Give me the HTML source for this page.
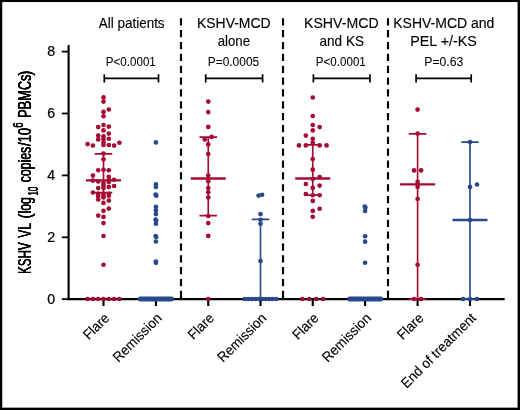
<!DOCTYPE html>
<html lang="en"><head><meta charset="utf-8"><title>KSHV VL</title>
<style>html,body{margin:0;padding:0;background:#fff}body{width:520px;height:410px;overflow:hidden}svg{display:block}text{font-family:"Liberation Sans",Arial,Helvetica,sans-serif;fill:#000}.t text{stroke:#000;stroke-width:.22px}</style>
</head><body>
<svg width="520" height="410" viewBox="0 0 520 410">
<rect x="0" y="0" width="520" height="410" fill="#000"/>
<rect x="2.25" y="2.05" width="515.3" height="405.6" fill="#fff"/>
<g stroke="#000" stroke-width="2.15" fill="none">
<path d="M68.6 45.8V299.15" stroke-linecap="round"/>
<path d="M61.8 299.15H68.6" stroke-width="1.8"/>
<path d="M68.6 299.15H503.8" stroke-linecap="round"/>
<path d="M61.8 237.30H68.6" stroke-width="1.8"/>
<path d="M61.8 175.40H68.6" stroke-width="1.8"/>
<path d="M61.8 113.50H68.6" stroke-width="1.8"/>
<path d="M61.8 51.60H68.6" stroke-width="1.8"/>
<path d="M103.5 299V306"/>
<path d="M155.9 299V306"/>
<path d="M208.25 299V306"/>
<path d="M260.5 299V306"/>
<path d="M312.75 299V306"/>
<path d="M365.1 299V306"/>
<path d="M417.6 299V306"/>
<path d="M470.0 299V306"/>
<path d="M181 18.25V298" stroke-dasharray="7.25 4.6"/>
<path d="M283 18.25V298" stroke-dasharray="7.25 4.6"/>
<path d="M388 18.25V298" stroke-dasharray="7.25 4.6"/>
</g>
<g class="t" font-size="14.2" text-anchor="end">
<text x="55.1" y="303.60">0</text>
<text x="55.1" y="241.70">2</text>
<text x="55.1" y="179.80">4</text>
<text x="55.1" y="117.90">6</text>
<text x="55.1" y="56.00">8</text>
</g>
<g transform="translate(31.4 0) rotate(-90)" stroke="#000" stroke-width="0.06">
<text transform="translate(-273.90 0) scale(0.6075 1)" font-size="19.10" style="text-shadow:0.15px 0 0 #000,-0.15px 0 0 #000">KSHV </text>
<text transform="translate(-237.75 0) scale(0.6332 1)" font-size="19.10" style="text-shadow:0.15px 0 0 #000,-0.15px 0 0 #000">VL </text>
<text transform="translate(-218.70 0) scale(0.8209 1)" font-size="19.10" style="text-shadow:0.1px 0 0 #000,-0.1px 0 0 #000">(</text>
<text transform="translate(-213.40 0) scale(0.6373 1)" font-size="19.10" style="text-shadow:0.15px 0 0 #000,-0.15px 0 0 #000">log</text>
<text transform="translate(-195.50 6.9) scale(0.5408 1)" font-size="14.62" style="text-shadow:0.12px 0 0 #000,-0.12px 0 0 #000">10 </text>
<text transform="translate(-182.27 0) scale(0.6444 1)" font-size="19.10" style="text-shadow:0.15px 0 0 #000,-0.15px 0 0 #000">copies</text>
<text transform="translate(-146.10 0) scale(0.6855 1)" font-size="19.10" style="text-shadow:0.15px 0 0 #000,-0.15px 0 0 #000">/10</text>
<text transform="translate(-127.70 -8.1) scale(0.6465 1)" font-size="14.62" style="text-shadow:0.12px 0 0 #000,-0.12px 0 0 #000">6 </text>
<text transform="translate(-117.98 0) scale(0.6721 1)" font-size="19.10" style="text-shadow:0.15px 0 0 #000,-0.15px 0 0 #000">PBM</text>
<text transform="translate(-89.94 0) scale(0.6537 1)" font-size="19.10" style="text-shadow:0.15px 0 0 #000,-0.15px 0 0 #000">Cs</text>
<text transform="translate(-75.70 0) scale(0.8209 1)" font-size="19.10" style="text-shadow:0.1px 0 0 #000,-0.1px 0 0 #000">)</text>
</g>
<g stroke="#000" stroke-width="0.12">
<text transform="translate(98.7 28.4) scale(0.963 1)" font-size="14.0">All patients</text>
<text transform="translate(196.89 28.3) scale(0.965 1)" font-size="14.5">KSHV-MCD</text>
<text transform="translate(217.73 45.6) scale(0.944 1)" font-size="14.0">alone</text>
<text transform="translate(303.98 28.3) scale(0.976 1)" font-size="14.5">KSHV-MCD</text>
<text transform="translate(319.52 45.6) scale(0.957 1)" font-size="14.2">and KS</text>
<text transform="translate(393.19 28.3) scale(0.967 1)" font-size="14.5">KSHV-MCD and</text>
<text transform="translate(410.17 45.5) scale(0.988 1)" font-size="14.5">PEL +/-KS</text>
</g>
<g stroke="#000" stroke-width="0.05">
<text transform="translate(105.86 65.8) scale(0.935 1)" font-size="12.4">P&lt;0.0001</text>
<text transform="translate(207.74 65.8) scale(0.964 1)" font-size="12.4">P=0.0005</text>
<text transform="translate(315.86 65.8) scale(0.935 1)" font-size="12.4">P&lt;0.0001</text>
<text transform="translate(424.21 65.8) scale(0.989 1)" font-size="12.4">P=0.63</text>
</g>
<g stroke="#000" stroke-width="1.7" fill="none">
<path d="M104.30 74.2V82.4M158.50 74.2V82.4M104.30 78.3H158.50"/>
<path d="M205.70 74.2V82.4M262.60 74.2V82.4M205.70 78.3H262.60"/>
<path d="M313.40 74.2V82.4M370.00 74.2V82.4M313.40 78.3H370.00"/>
<path d="M416.10 74.2V82.4M471.20 74.2V82.4M416.10 78.3H471.20"/>
</g>
<g font-size="14.1" text-anchor="end" stroke="#000" stroke-width="0.12">
<text transform="translate(110.30 318.9) rotate(-45) scale(0.95 1)">Flare</text>
<text transform="translate(162.70 318.9) rotate(-45) scale(0.95 1)">Remission</text>
<text transform="translate(215.05 318.9) rotate(-45) scale(0.95 1)">Flare</text>
<text transform="translate(267.30 318.9) rotate(-45) scale(0.95 1)">Remission</text>
<text transform="translate(319.55 318.9) rotate(-45) scale(0.95 1)">Flare</text>
<text transform="translate(371.90 318.9) rotate(-45) scale(0.95 1)">Remission</text>
<text transform="translate(424.40 318.9) rotate(-45) scale(0.95 1)">Flare</text>
<text transform="translate(476.80 318.9) rotate(-45) scale(0.95 1)">End of treatment</text>
</g>
<g fill="#A60B32" stroke="#A60B32">
<path d="M103.5 153.75V192.50" stroke-width="1.65" fill="none"/>
<path d="M94.70 153.75H112.30M94.70 192.50H112.30" stroke-width="1.75" fill="none"/>
<path d="M86.00 180.40H121.00" stroke-width="2.3" fill="none"/>
<circle cx="103.50" cy="97.40" r="2.35" stroke="none"/>
<circle cx="103.50" cy="101.60" r="2.35" stroke="none"/>
<circle cx="108.80" cy="109.50" r="2.35" stroke="none"/>
<circle cx="103.50" cy="111.90" r="2.35" stroke="none"/>
<circle cx="103.50" cy="116.25" r="2.35" stroke="none"/>
<circle cx="103.50" cy="125.00" r="2.35" stroke="none"/>
<circle cx="98.20" cy="127.10" r="2.35" stroke="none"/>
<circle cx="108.80" cy="126.60" r="2.35" stroke="none"/>
<circle cx="103.50" cy="130.40" r="2.35" stroke="none"/>
<circle cx="108.80" cy="133.60" r="2.35" stroke="none"/>
<circle cx="98.20" cy="135.50" r="2.35" stroke="none"/>
<circle cx="103.50" cy="136.40" r="2.35" stroke="none"/>
<circle cx="98.20" cy="139.40" r="2.35" stroke="none"/>
<circle cx="108.80" cy="138.75" r="2.35" stroke="none"/>
<circle cx="103.50" cy="139.40" r="2.35" stroke="none"/>
<circle cx="103.50" cy="142.50" r="2.35" stroke="none"/>
<circle cx="103.50" cy="145.00" r="2.35" stroke="none"/>
<circle cx="108.80" cy="145.00" r="2.35" stroke="none"/>
<circle cx="114.10" cy="145.60" r="2.35" stroke="none"/>
<circle cx="119.40" cy="142.75" r="2.35" stroke="none"/>
<circle cx="87.60" cy="144.10" r="2.35" stroke="none"/>
<circle cx="92.90" cy="145.50" r="2.35" stroke="none"/>
<circle cx="103.50" cy="153.50" r="2.35" stroke="none"/>
<circle cx="103.50" cy="159.30" r="2.35" stroke="none"/>
<circle cx="98.20" cy="170.25" r="2.35" stroke="none"/>
<circle cx="103.50" cy="169.75" r="2.35" stroke="none"/>
<circle cx="108.80" cy="170.25" r="2.35" stroke="none"/>
<circle cx="92.90" cy="175.60" r="2.35" stroke="none"/>
<circle cx="108.80" cy="176.90" r="2.35" stroke="none"/>
<circle cx="92.90" cy="180.60" r="2.35" stroke="none"/>
<circle cx="98.20" cy="181.50" r="2.35" stroke="none"/>
<circle cx="108.80" cy="180.00" r="2.35" stroke="none"/>
<circle cx="114.10" cy="179.75" r="2.35" stroke="none"/>
<circle cx="108.80" cy="181.90" r="2.35" stroke="none"/>
<circle cx="103.50" cy="183.10" r="2.35" stroke="none"/>
<circle cx="103.50" cy="185.60" r="2.35" stroke="none"/>
<circle cx="114.10" cy="186.00" r="2.35" stroke="none"/>
<circle cx="108.80" cy="186.90" r="2.35" stroke="none"/>
<circle cx="98.20" cy="188.10" r="2.35" stroke="none"/>
<circle cx="103.50" cy="188.00" r="2.35" stroke="none"/>
<circle cx="92.90" cy="192.50" r="2.35" stroke="none"/>
<circle cx="98.20" cy="193.75" r="2.35" stroke="none"/>
<circle cx="103.50" cy="193.75" r="2.35" stroke="none"/>
<circle cx="108.80" cy="193.75" r="2.35" stroke="none"/>
<circle cx="98.20" cy="196.00" r="2.35" stroke="none"/>
<circle cx="103.50" cy="196.00" r="2.35" stroke="none"/>
<circle cx="108.80" cy="195.70" r="2.35" stroke="none"/>
<circle cx="98.20" cy="199.40" r="2.35" stroke="none"/>
<circle cx="103.50" cy="197.50" r="2.35" stroke="none"/>
<circle cx="108.80" cy="200.60" r="2.35" stroke="none"/>
<circle cx="103.50" cy="202.90" r="2.35" stroke="none"/>
<circle cx="108.80" cy="208.60" r="2.35" stroke="none"/>
<circle cx="103.50" cy="210.80" r="2.35" stroke="none"/>
<circle cx="98.20" cy="215.60" r="2.35" stroke="none"/>
<circle cx="103.50" cy="216.90" r="2.35" stroke="none"/>
<circle cx="103.50" cy="223.10" r="2.35" stroke="none"/>
<circle cx="103.50" cy="236.00" r="2.35" stroke="none"/>
<circle cx="103.50" cy="264.75" r="2.35" stroke="none"/>
<circle cx="87.60" cy="299.00" r="2.35" stroke="none"/>
<circle cx="92.90" cy="299.00" r="2.35" stroke="none"/>
<circle cx="98.20" cy="299.00" r="2.35" stroke="none"/>
<circle cx="103.50" cy="299.00" r="2.35" stroke="none"/>
<circle cx="108.80" cy="299.00" r="2.35" stroke="none"/>
<circle cx="114.10" cy="299.00" r="2.35" stroke="none"/>
<circle cx="119.40" cy="299.00" r="2.35" stroke="none"/>
</g>
<g fill="#28498A" stroke="#28498A">
<path d="M140.1 299H171.6" stroke-width="4.8" stroke-linecap="round" fill="none"/>
<circle cx="155.90" cy="142.40" r="2.35" stroke="none"/>
<circle cx="155.90" cy="184.40" r="2.35" stroke="none"/>
<circle cx="155.90" cy="186.90" r="2.35" stroke="none"/>
<circle cx="155.60" cy="194.60" r="2.35" stroke="none"/>
<circle cx="156.30" cy="195.70" r="2.35" stroke="none"/>
<circle cx="155.90" cy="206.90" r="2.35" stroke="none"/>
<circle cx="155.90" cy="210.60" r="2.35" stroke="none"/>
<circle cx="155.90" cy="214.10" r="2.35" stroke="none"/>
<circle cx="155.60" cy="219.60" r="2.35" stroke="none"/>
<circle cx="156.20" cy="220.50" r="2.35" stroke="none"/>
<circle cx="155.90" cy="223.75" r="2.35" stroke="none"/>
<circle cx="155.60" cy="236.10" r="2.35" stroke="none"/>
<circle cx="156.20" cy="237.00" r="2.35" stroke="none"/>
<circle cx="155.90" cy="241.50" r="2.35" stroke="none"/>
<circle cx="155.90" cy="261.50" r="2.35" stroke="none"/>
<circle cx="155.90" cy="262.80" r="2.35" stroke="none"/>
</g>
<g fill="#A60B32" stroke="#A60B32">
<path d="M208.25 137.00V215.50" stroke-width="1.65" fill="none"/>
<path d="M199.45 137.00H217.05M199.45 215.50H217.05" stroke-width="1.75" fill="none"/>
<path d="M190.75 178.50H225.75" stroke-width="2.3" fill="none"/>
<circle cx="208.25" cy="101.60" r="2.35" stroke="none"/>
<circle cx="208.25" cy="112.10" r="2.35" stroke="none"/>
<circle cx="208.25" cy="126.90" r="2.35" stroke="none"/>
<circle cx="211.65" cy="136.90" r="2.35" stroke="none"/>
<circle cx="204.75" cy="139.40" r="2.35" stroke="none"/>
<circle cx="208.25" cy="144.40" r="2.35" stroke="none"/>
<circle cx="208.25" cy="154.00" r="2.35" stroke="none"/>
<circle cx="208.25" cy="175.60" r="2.35" stroke="none"/>
<circle cx="208.25" cy="181.25" r="2.35" stroke="none"/>
<circle cx="208.25" cy="188.10" r="2.35" stroke="none"/>
<circle cx="208.25" cy="192.25" r="2.35" stroke="none"/>
<circle cx="208.25" cy="197.50" r="2.35" stroke="none"/>
<circle cx="208.25" cy="216.00" r="2.35" stroke="none"/>
<circle cx="208.25" cy="223.10" r="2.35" stroke="none"/>
<circle cx="208.25" cy="235.90" r="2.35" stroke="none"/>
<circle cx="208.25" cy="299.00" r="2.35" stroke="none"/>
</g>
<g fill="#28498A" stroke="#28498A">
<path d="M260.5 219.25V299.00" stroke-width="1.65" fill="none"/>
<path d="M251.70 219.25H269.30M251.70 299.00H269.30" stroke-width="1.75" fill="none"/>
<path d="M243.00 299.00H278.00" stroke-width="2.3" fill="none"/>
<circle cx="258.60" cy="195.60" r="2.35" stroke="none"/>
<circle cx="262.10" cy="194.75" r="2.35" stroke="none"/>
<circle cx="260.50" cy="214.10" r="2.35" stroke="none"/>
<circle cx="260.50" cy="219.75" r="2.35" stroke="none"/>
<circle cx="260.50" cy="223.75" r="2.35" stroke="none"/>
<circle cx="260.50" cy="261.00" r="2.35" stroke="none"/>
<circle cx="244.75" cy="299.00" r="2.35" stroke="none"/>
<circle cx="248.25" cy="299.00" r="2.35" stroke="none"/>
<circle cx="251.75" cy="299.00" r="2.35" stroke="none"/>
<circle cx="255.25" cy="299.00" r="2.35" stroke="none"/>
<circle cx="258.75" cy="299.00" r="2.35" stroke="none"/>
<circle cx="262.25" cy="299.00" r="2.35" stroke="none"/>
<circle cx="265.75" cy="299.00" r="2.35" stroke="none"/>
<circle cx="269.25" cy="299.00" r="2.35" stroke="none"/>
<circle cx="272.75" cy="299.00" r="2.35" stroke="none"/>
<circle cx="276.25" cy="299.00" r="2.35" stroke="none"/>
</g>
<g fill="#A60B32" stroke="#A60B32">
<path d="M312.75 144.75V195.00" stroke-width="1.65" fill="none"/>
<path d="M303.95 144.75H321.55M303.95 195.00H321.55" stroke-width="1.75" fill="none"/>
<path d="M295.25 178.50H330.25" stroke-width="2.3" fill="none"/>
<circle cx="312.75" cy="97.50" r="2.35" stroke="none"/>
<circle cx="312.75" cy="116.00" r="2.35" stroke="none"/>
<circle cx="312.75" cy="125.00" r="2.35" stroke="none"/>
<circle cx="319.65" cy="127.10" r="2.35" stroke="none"/>
<circle cx="312.75" cy="130.40" r="2.35" stroke="none"/>
<circle cx="305.85" cy="135.60" r="2.35" stroke="none"/>
<circle cx="312.75" cy="138.75" r="2.35" stroke="none"/>
<circle cx="312.75" cy="142.50" r="2.35" stroke="none"/>
<circle cx="298.95" cy="145.40" r="2.35" stroke="none"/>
<circle cx="305.85" cy="145.40" r="2.35" stroke="none"/>
<circle cx="319.65" cy="145.40" r="2.35" stroke="none"/>
<circle cx="326.55" cy="145.40" r="2.35" stroke="none"/>
<circle cx="312.75" cy="159.10" r="2.35" stroke="none"/>
<circle cx="312.75" cy="169.70" r="2.35" stroke="none"/>
<circle cx="319.65" cy="177.10" r="2.35" stroke="none"/>
<circle cx="312.75" cy="179.00" r="2.35" stroke="none"/>
<circle cx="305.85" cy="184.00" r="2.35" stroke="none"/>
<circle cx="319.65" cy="185.60" r="2.35" stroke="none"/>
<circle cx="312.75" cy="187.90" r="2.35" stroke="none"/>
<circle cx="305.85" cy="194.00" r="2.35" stroke="none"/>
<circle cx="312.75" cy="195.25" r="2.35" stroke="none"/>
<circle cx="319.65" cy="195.25" r="2.35" stroke="none"/>
<circle cx="312.75" cy="200.90" r="2.35" stroke="none"/>
<circle cx="319.65" cy="208.75" r="2.35" stroke="none"/>
<circle cx="312.75" cy="210.90" r="2.35" stroke="none"/>
<circle cx="312.75" cy="216.80" r="2.35" stroke="none"/>
<circle cx="302.40" cy="299.00" r="2.35" stroke="none"/>
<circle cx="309.30" cy="299.00" r="2.35" stroke="none"/>
<circle cx="316.20" cy="299.00" r="2.35" stroke="none"/>
<circle cx="323.10" cy="299.00" r="2.35" stroke="none"/>
</g>
<g fill="#28498A" stroke="#28498A">
<path d="M349.6 299H380.8" stroke-width="4.8" stroke-linecap="round" fill="none"/>
<circle cx="364.80" cy="206.50" r="2.35" stroke="none"/>
<circle cx="365.40" cy="207.50" r="2.35" stroke="none"/>
<circle cx="365.10" cy="211.00" r="2.35" stroke="none"/>
<circle cx="365.10" cy="236.25" r="2.35" stroke="none"/>
<circle cx="365.10" cy="241.70" r="2.35" stroke="none"/>
<circle cx="365.10" cy="262.75" r="2.35" stroke="none"/>
</g>
<g fill="#A60B32" stroke="#A60B32">
<path d="M417.6 133.90V299.00" stroke-width="1.65" fill="none"/>
<path d="M408.80 133.90H426.40M408.80 299.00H426.40" stroke-width="1.75" fill="none"/>
<path d="M400.10 184.40H435.10" stroke-width="2.3" fill="none"/>
<circle cx="417.60" cy="109.60" r="2.35" stroke="none"/>
<circle cx="417.60" cy="133.50" r="2.35" stroke="none"/>
<circle cx="414.10" cy="170.40" r="2.35" stroke="none"/>
<circle cx="421.10" cy="170.40" r="2.35" stroke="none"/>
<circle cx="417.60" cy="181.90" r="2.35" stroke="none"/>
<circle cx="417.60" cy="186.90" r="2.35" stroke="none"/>
<circle cx="417.60" cy="199.00" r="2.35" stroke="none"/>
<circle cx="417.60" cy="264.75" r="2.35" stroke="none"/>
<circle cx="414.10" cy="299.00" r="2.35" stroke="none"/>
<circle cx="421.10" cy="299.00" r="2.35" stroke="none"/>
</g>
<g fill="#28498A" stroke="#28498A">
<path d="M470.0 142.10V299.00" stroke-width="1.65" fill="none"/>
<path d="M461.20 142.10H478.80M461.20 299.00H478.80" stroke-width="1.75" fill="none"/>
<path d="M452.50 220.00H487.50" stroke-width="2.3" fill="none"/>
<circle cx="470.00" cy="142.10" r="2.35" stroke="none"/>
<circle cx="470.00" cy="186.90" r="2.35" stroke="none"/>
<circle cx="477.00" cy="184.50" r="2.35" stroke="none"/>
<circle cx="470.00" cy="220.00" r="2.35" stroke="none"/>
<circle cx="463.00" cy="299.00" r="2.35" stroke="none"/>
<circle cx="470.00" cy="299.00" r="2.35" stroke="none"/>
<circle cx="477.00" cy="299.00" r="2.35" stroke="none"/>
</g>
</svg></body></html>
